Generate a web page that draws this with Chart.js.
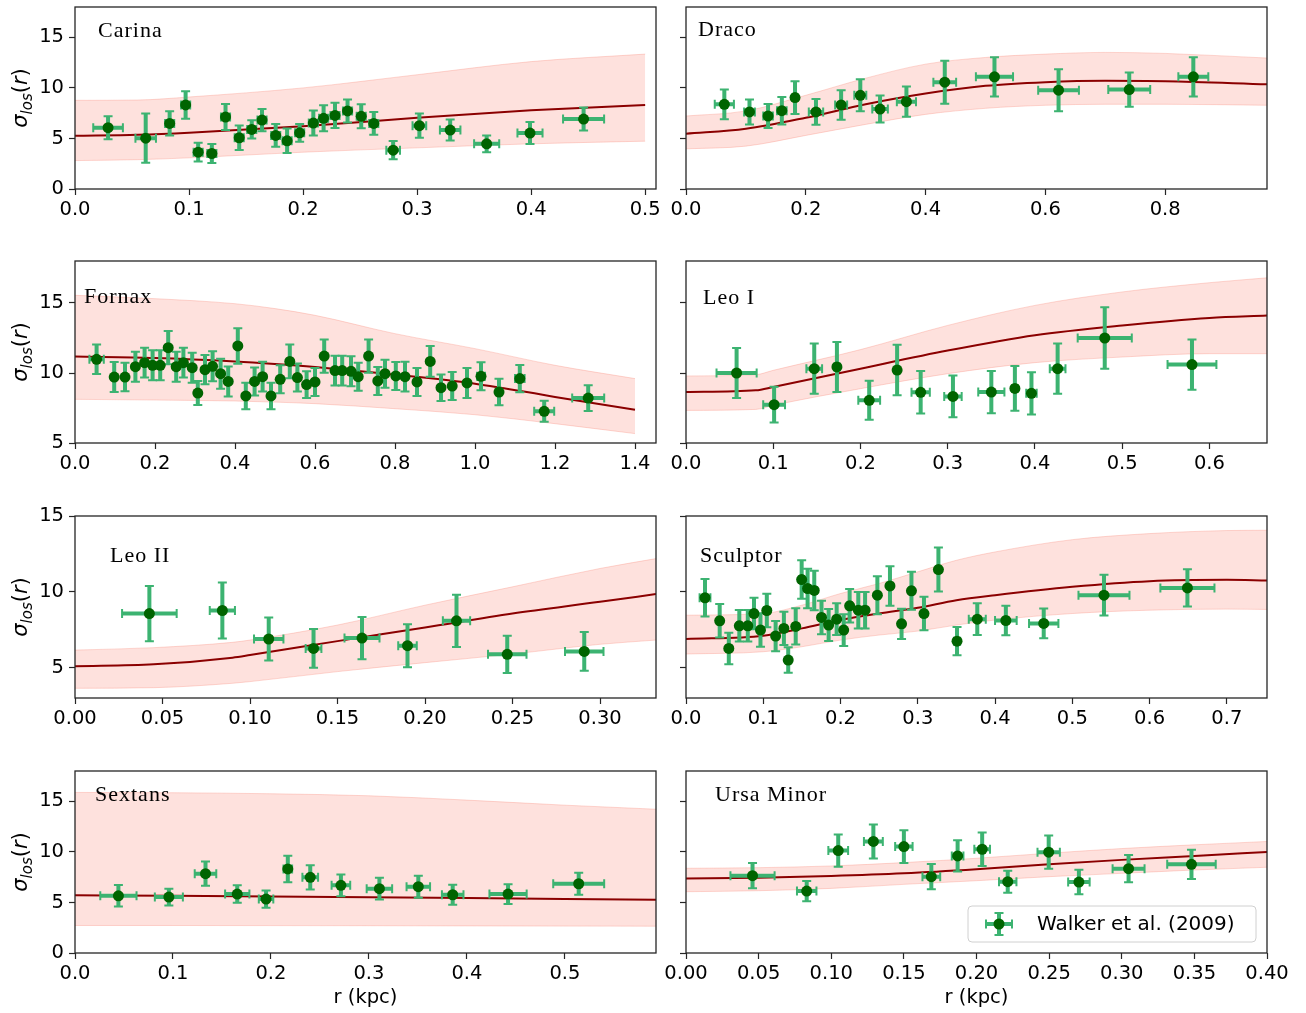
<!DOCTYPE html>
<html>
<head>
<meta charset="utf-8">
<script src="https://cdn.jsdelivr.net/npm/chart.js@4.4.0/dist/chart.umd.min.js"></script>
<style>
  html, body { margin: 0; padding: 0; background: #fff; }
  #fig { position: relative; width: 1306px; height: 1013px; overflow: hidden; background: #fff; }
  #fig canvas { position: absolute; }
</style>
</head>
<body>
<div id="fig"></div>
<script>
// ---- Carina
const carinaR = [0.029, 0.062, 0.083, 0.097, 0.108, 0.120, 0.132, 0.144, 0.155, 0.164, 0.176, 0.186, 0.197, 0.209, 0.218, 0.228, 0.239, 0.251, 0.262, 0.279, 0.302, 0.329, 0.361, 0.399, 0.446];
const carinaSigma = [6.06, 5.03, 6.49, 8.31, 3.64, 3.51, 7.12, 5.07, 5.89, 6.82, 5.30, 4.77, 5.56, 6.52, 6.99, 7.28, 7.72, 7.19, 6.49, 3.84, 6.26, 5.83, 4.47, 5.53, 6.92];
const carinaErrR = [0.013, 0.009, 0.004, 0.004, 0.004, 0.004, 0.004, 0.004, 0.004, 0.004, 0.004, 0.004, 0.004, 0.004, 0.004, 0.004, 0.004, 0.004, 0.004, 0.006, 0.006, 0.009, 0.011, 0.011, 0.018];
const carinaErrSigma = [1.13, 2.43, 1.2, 1.36, 0.93, 0.93, 1.29, 1.22, 0.9, 1.1, 1.13, 1.22, 0.88, 1.24, 1.29, 1.24, 1.14, 1.19, 1.13, 0.9, 1.2, 1.04, 0.83, 1.09, 1.14];
const carinaModelR = [0, 0.055, 0.1, 0.2, 0.3, 0.4, 0.5];
const carinaModel = [5.26, 5.36, 5.56, 6.2, 7.05, 7.78, 8.31];
const carinaUpper = [8.77, 8.8, 9.1, 10.0, 11.3, 12.6, 13.34];
const carinaLower = [2.81, 2.9, 3.08, 3.64, 4.07, 4.47, 4.73];

// ---- Draco
const dracoR = [0.064, 0.106, 0.137, 0.160, 0.182, 0.217, 0.259, 0.291, 0.324, 0.368, 0.432, 0.515, 0.622, 0.740, 0.847];
const dracoSigma = [8.38, 7.62, 7.22, 7.75, 9.04, 7.62, 8.31, 9.27, 7.91, 8.64, 10.56, 11.09, 9.77, 9.83, 11.09];
const dracoErrR = [0.016, 0.009, 0.008, 0.008, 0.004, 0.012, 0.010, 0.010, 0.013, 0.016, 0.019, 0.031, 0.034, 0.035, 0.025];
const dracoErrSigma = [1.47, 1.24, 1.19, 1.36, 1.62, 1.27, 1.46, 1.59, 1.34, 1.5, 2.12, 1.95, 2.07, 1.69, 1.95];
const dracoModelR = [0, 0.1, 0.2, 0.3, 0.4, 0.5, 0.6, 0.7, 0.8, 0.97];
const dracoModel = [5.46, 5.95, 7.05, 8.38, 9.44, 10.2, 10.56, 10.7, 10.66, 10.36];
const dracoUpper = [7.22, 7.72, 9.27, 10.96, 12.35, 13.01, 13.34, 13.51, 13.41, 12.95];
const dracoLower = [3.97, 4.24, 5.3, 6.39, 7.38, 7.98, 8.28, 8.38, 8.38, 8.28];

// ---- Fornax
const fornaxR = [0.054, 0.098, 0.125, 0.151, 0.174, 0.194, 0.213, 0.233, 0.253, 0.271, 0.293, 0.307, 0.325, 0.344, 0.364, 0.383, 0.407, 0.427, 0.449, 0.469, 0.490, 0.513, 0.537, 0.556, 0.579, 0.600, 0.623, 0.650, 0.668, 0.690, 0.708, 0.734, 0.757, 0.775, 0.802, 0.825, 0.855, 0.888, 0.915, 0.943, 0.980, 1.015, 1.060, 1.112, 1.173, 1.283];
const fornaxSigma = [10.98, 9.71, 9.71, 10.45, 10.74, 10.55, 10.55, 11.81, 10.45, 10.74, 10.38, 8.57, 10.24, 10.48, 9.95, 9.40, 11.93, 8.36, 9.40, 9.74, 8.36, 9.55, 10.83, 9.67, 9.17, 9.36, 11.21, 10.17, 10.17, 10.12, 9.74, 11.21, 9.43, 9.95, 9.79, 9.74, 9.36, 10.83, 8.95, 9.07, 9.29, 9.76, 8.64, 9.60, 7.26, 8.21];
const fornaxErrR = [0.018, 0.004, 0.004, 0.004, 0.004, 0.004, 0.004, 0.004, 0.004, 0.004, 0.004, 0.004, 0.004, 0.004, 0.004, 0.004, 0.004, 0.004, 0.004, 0.004, 0.004, 0.004, 0.004, 0.004, 0.004, 0.004, 0.004, 0.004, 0.004, 0.004, 0.004, 0.004, 0.004, 0.004, 0.004, 0.004, 0.004, 0.004, 0.004, 0.004, 0.004, 0.010, 0.006, 0.012, 0.025, 0.040];
const fornaxErrSigma = [1.06, 1.07, 1.02, 1.07, 1.07, 1.07, 1.07, 1.19, 1.07, 1.07, 1.07, 0.86, 1.05, 1.07, 1.07, 1.07, 1.27, 0.95, 1.0, 1.07, 0.95, 1.0, 1.21, 1.0, 0.95, 1.0, 1.19, 1.07, 1.07, 1.07, 1.0, 1.19, 1.0, 1.0, 1.0, 1.07, 1.0, 1.1, 0.95, 1.0, 1.07, 1.0, 0.95, 0.98, 0.75, 0.92];
const fornaxModelR = [0, 0.2, 0.4, 0.5, 0.6, 0.8, 1.0, 1.2, 1.4];
const fornaxModel = [11.17, 11.07, 10.83, 10.65, 10.43, 9.88, 9.24, 8.29, 7.38];
const fornaxUpper = [15.55, 15.31, 14.95, 14.6, 14.12, 12.81, 11.74, 10.55, 9.6];
const fornaxLower = [8.12, 8.07, 8.0, 7.92, 7.81, 7.45, 7.02, 6.38, 5.67];

// ---- Leo I
const leoIR = [0.058, 0.101, 0.147, 0.173, 0.210, 0.242, 0.269, 0.306, 0.350, 0.377, 0.396, 0.426, 0.480, 0.580];
const leoISigma = [10.0, 7.74, 10.31, 10.43, 8.05, 10.21, 8.62, 8.33, 8.64, 8.9, 8.55, 10.31, 12.5, 10.6];
const leoIErrR = [0.023, 0.0125, 0.009, 0.003, 0.0125, 0.003, 0.0105, 0.01, 0.015, 0.003, 0.006, 0.009, 0.031, 0.028];
const leoIErrSigma = [1.79, 1.27, 1.8, 1.79, 1.39, 1.8, 1.52, 1.49, 1.51, 1.6, 1.51, 1.8, 2.2, 1.79];
const leoIModelR = [0, 0.08, 0.1, 0.2, 0.3, 0.4, 0.5, 0.6, 0.666];
const leoIModel = [8.64, 8.76, 9.0, 10.31, 11.6, 12.7, 13.4, 13.93, 14.1];
const leoIUpper = [9.79, 9.88, 10.19, 11.67, 13.4, 14.83, 15.79, 16.45, 16.8];
const leoILower = [7.33, 7.4, 7.69, 8.88, 9.95, 10.74, 11.14, 11.38, 11.38];

// ---- Leo II
const leoIIR = [0.0425, 0.0842, 0.1107, 0.1363, 0.164, 0.190, 0.218, 0.247, 0.291];
const leoIISigma = [8.57, 8.77, 6.89, 6.27, 6.95, 6.45, 8.09, 5.88, 6.07];
const leoIIErrR = [0.0156, 0.0072, 0.0084, 0.0045, 0.010, 0.0053, 0.0078, 0.011, 0.011];
const leoIIErrSigma = [1.82, 1.84, 1.41, 1.28, 1.39, 1.42, 1.72, 1.23, 1.28];
const leoIIModelR = [0, 0.045, 0.09, 0.1, 0.15, 0.2, 0.25, 0.3, 0.332];
const leoIIModel = [5.09, 5.22, 5.66, 5.83, 6.75, 7.65, 8.57, 9.34, 9.85];
const leoIIUpper = [6.16, 6.32, 6.67, 6.82, 7.81, 9.12, 10.33, 11.54, 12.19];
const leoIILower = [3.64, 3.68, 3.97, 4.08, 4.74, 5.33, 5.9, 6.54, 6.82];

// ---- Sculptor
const sculptorR = [0.0246, 0.0436, 0.0554, 0.069, 0.080, 0.088, 0.0964, 0.1046, 0.116, 0.1267, 0.1323, 0.142, 0.1497, 0.1574, 0.166, 0.1754, 0.1846, 0.195, 0.2041, 0.2118, 0.223, 0.2318, 0.2477, 0.264, 0.279, 0.2918, 0.308, 0.3267, 0.3508, 0.377, 0.414, 0.463, 0.541, 0.649];
const sculptorSigma = [9.61, 8.09, 6.27, 7.76, 7.76, 8.57, 7.48, 8.77, 7.08, 7.59, 5.5, 7.72, 10.81, 10.22, 10.09, 8.31, 7.81, 8.2, 7.48, 9.08, 8.79, 8.79, 9.78, 10.39, 7.89, 10.07, 8.57, 11.47, 6.75, 8.2, 8.11, 7.92, 9.78, 10.26];
const sculptorErrR = [0.007, 0.003, 0.003, 0.003, 0.003, 0.003, 0.003, 0.003, 0.003, 0.003, 0.003, 0.003, 0.003, 0.003, 0.003, 0.003, 0.003, 0.003, 0.003, 0.003, 0.003, 0.003, 0.003, 0.003, 0.003, 0.003, 0.003, 0.003, 0.004, 0.011, 0.014, 0.019, 0.033, 0.035];
const sculptorErrSigma = [1.24, 1.1, 1.04, 1.04, 1.04, 1.04, 1.1, 1.1, 1.0, 1.1, 0.84, 1.2, 1.27, 1.3, 1.3, 1.1, 1.05, 1.05, 1.05, 1.1, 1.2, 1.2, 1.25, 1.3, 1.0, 1.25, 1.1, 1.45, 0.93, 1.05, 0.98, 0.98, 1.34, 1.23];
const sculptorModelR = [0, 0.1, 0.15, 0.2, 0.25, 0.3, 0.35, 0.4, 0.5, 0.6, 0.7, 0.752];
const sculptorModel = [6.89, 7.11, 7.59, 8.14, 8.57, 8.95, 9.45, 9.78, 10.33, 10.7, 10.79, 10.75];
const sculptorUpper = [8.46, 8.57, 9.12, 9.89, 10.55, 11.32, 12.08, 12.63, 13.44, 13.84, 14.04, 14.06];
const sculptorLower = [5.9, 6.05, 6.38, 6.82, 7.15, 7.41, 7.81, 8.14, 8.57, 8.79, 8.86, 8.84];

// ---- Sextans
const sextansR = [0.0443, 0.0958, 0.1332, 0.1656, 0.195, 0.2172, 0.2401, 0.2714, 0.3107, 0.3504, 0.3855, 0.442, 0.5141];
const sextansSigma = [5.66, 5.53, 7.85, 5.83, 5.33, 8.31, 7.48, 6.69, 6.36, 6.56, 5.76, 5.83, 6.85];
const sextansErrR = [0.0185, 0.0143, 0.011, 0.0124, 0.0074, 0.0044, 0.008, 0.0095, 0.013, 0.012, 0.011, 0.019, 0.026];
const sextansErrSigma = [1.06, 0.83, 1.21, 0.86, 0.86, 1.32, 1.21, 1.08, 1.08, 1.09, 0.98, 0.98, 1.08];
const sextansModelR = [0, 0.1, 0.2, 0.3, 0.4, 0.5, 0.593];
const sextansModel = [5.7, 5.66, 5.6, 5.52, 5.44, 5.35, 5.26];
const sextansUpper = [15.88, 15.85, 15.75, 15.55, 15.12, 14.62, 14.22];
const sextansLower = [2.72, 2.72, 2.71, 2.7, 2.68, 2.66, 2.65];

// ---- Ursa Minor
const ursaR = [0.0458, 0.0831, 0.1048, 0.129, 0.150, 0.1689, 0.187, 0.2039, 0.2215, 0.2497, 0.2705, 0.3047, 0.348];
const ursaSigma = [7.65, 6.13, 10.13, 11.03, 10.53, 7.55, 9.6, 10.26, 7.05, 9.97, 7.02, 8.34, 8.77];
const ursaErrR = [0.0152, 0.0067, 0.0068, 0.0065, 0.006, 0.0061, 0.004, 0.0054, 0.006, 0.0077, 0.0074, 0.011, 0.0167];
const ursaErrSigma = [1.24, 1.0, 1.6, 1.69, 1.62, 1.24, 1.54, 1.66, 1.09, 1.64, 1.21, 1.34, 1.44];
const ursaModelR = [0, 0.05, 0.1, 0.15, 0.2, 0.25, 0.3, 0.35, 0.4];
const ursaModel = [7.38, 7.45, 7.62, 7.88, 8.28, 8.77, 9.21, 9.6, 10.0];
const ursaUpper = [8.38, 8.44, 8.61, 8.94, 9.37, 9.87, 10.33, 10.7, 11.03];
const ursaLower = [6.06, 6.16, 6.39, 6.79, 7.15, 7.55, 7.88, 8.21, 8.48];

const dataLabel = "Walker et al. (2009)";

// y ranges per row (shared in a row)
const rowYMin = [0, 5, 3, 0];
const rowYMax = [18, 18, 15, 18];

const panels = [
    { name: "Carina", r: carinaR, s: carinaSigma, er: carinaErrR, es: carinaErrSigma, mr: carinaModelR, m: carinaModel, up: carinaUpper, lo: carinaLower, xMax: 0.5095, xStep: 0.1, xDec: 1, row: 0, col: 0, tx: 23, ty: 30 },
    { name: "Draco", r: dracoR, s: dracoSigma, er: dracoErrR, es: dracoErrSigma, mr: dracoModelR, m: dracoModel, up: dracoUpper, lo: dracoLower, xMax: 0.97, xStep: 0.2, xDec: 1, row: 0, col: 1, tx: 12, ty: 29 },
    { name: "Fornax", r: fornaxR, s: fornaxSigma, er: fornaxErrR, es: fornaxErrSigma, mr: fornaxModelR, m: fornaxModel, up: fornaxUpper, lo: fornaxLower, xMax: 1.4525, xStep: 0.2, xDec: 1, row: 1, col: 0, tx: 9, ty: 42 },
    { name: "Leo I", r: leoIR, s: leoISigma, er: leoIErrR, es: leoIErrSigma, mr: leoIModelR, m: leoIModel, up: leoIUpper, lo: leoILower, xMax: 0.666, xStep: 0.1, xDec: 1, row: 1, col: 1, tx: 17, ty: 43 },
    { name: "Leo II", r: leoIIR, s: leoIISigma, er: leoIIErrR, es: leoIIErrSigma, mr: leoIIModelR, m: leoIIModel, up: leoIIUpper, lo: leoIILower, xMax: 0.332, xStep: 0.05, xDec: 2, row: 2, col: 0, tx: 35, ty: 46 },
    { name: "Sculptor", r: sculptorR, s: sculptorSigma, er: sculptorErrR, es: sculptorErrSigma, mr: sculptorModelR, m: sculptorModel, up: sculptorUpper, lo: sculptorLower, xMax: 0.752, xStep: 0.1, xDec: 1, row: 2, col: 1, tx: 14, ty: 46 },
    { name: "Sextans", r: sextansR, s: sextansSigma, er: sextansErrR, es: sextansErrSigma, mr: sextansModelR, m: sextansModel, up: sextansUpper, lo: sextansLower, xMax: 0.593, xStep: 0.1, xDec: 1, row: 3, col: 0, tx: 20, ty: 30 },
    { name: "Ursa Minor", r: ursaR, s: ursaSigma, er: ursaErrR, es: ursaErrSigma, mr: ursaModelR, m: ursaModel, up: ursaUpper, lo: ursaLower, xMax: 0.40, xStep: 0.05, xDec: 2, row: 3, col: 1, tx: 29, ty: 30, legend: true }
];

// layout of the figure
const COL_LEFT = [75, 686];
const ROW_TOP = [7, 261, 516, 771];
const PLOT_W = 581, PLOT_H = 182;
const AXIS_W = 75, PAD_TOP = 18, PAD_RIGHT = 30;

const BAR_COLOR = "#3cb371";
const DOT_COLOR = "#006400";
const FRAME = "#262626";

Chart.defaults.font.family = "'DejaVu Sans', sans-serif";
Chart.defaults.font.size = 19.5;
Chart.defaults.color = "#000";

function drawErrorBar(ctx, px, py, x0, x1, y0, y1) {
    ctx.strokeStyle = BAR_COLOR;
    ctx.lineCap = "butt";
    ctx.lineWidth = 4;
    ctx.beginPath();
    ctx.moveTo(x0, py); ctx.lineTo(x1, py);
    ctx.moveTo(px, y0); ctx.lineTo(px, y1);
    ctx.stroke();
    ctx.lineWidth = 2;
    ctx.beginPath();
    ctx.moveTo(x0, py - 4.5); ctx.lineTo(x0, py + 4.5);
    ctx.moveTo(x1, py - 4.5); ctx.lineTo(x1, py + 4.5);
    ctx.moveTo(px - 4.5, y0); ctx.lineTo(px + 4.5, y0);
    ctx.moveTo(px - 4.5, y1); ctx.lineTo(px + 4.5, y1);
    ctx.stroke();
}

const errorBars = {
    id: "errorBars",
    beforeDatasetDraw(chart, args) {
        if (args.index !== 0) return;
        const ds = chart.data.datasets[0];
        const xs = chart.scales.x, ys = chart.scales.y;
        const ctx = chart.ctx;
        ctx.save();
        ds.data.forEach((p, i) => {
            drawErrorBar(ctx,
                xs.getPixelForValue(p.x), ys.getPixelForValue(p.y),
                xs.getPixelForValue(p.x - ds.errX[i]), xs.getPixelForValue(p.x + ds.errX[i]),
                ys.getPixelForValue(p.y - ds.errY[i]), ys.getPixelForValue(p.y + ds.errY[i]));
        });
        ctx.restore();
    }
};

function drawYLabel(ctx, cx, cy) {
    const big = 21, small = 15;
    const parts = [
        { t: "σ", f: `italic ${big}px 'DejaVu Sans'`, dy: 0 },
        { t: "los", f: `italic ${small}px 'DejaVu Sans'`, dy: 5 },
        { t: "(", f: `${big}px 'DejaVu Sans'`, dy: 0 },
        { t: "r", f: `italic ${big}px 'DejaVu Sans'`, dy: 0 },
        { t: ")", f: `${big}px 'DejaVu Sans'`, dy: 0 }
    ];
    ctx.save();
    ctx.translate(cx, cy);
    ctx.rotate(-Math.PI / 2);
    ctx.fillStyle = "#000";
    ctx.textBaseline = "alphabetic";
    ctx.textAlign = "left";
    let total = 0;
    parts.forEach(p => { ctx.font = p.f; p.w = ctx.measureText(p.t).width; total += p.w; });
    let x = -total / 2;
    parts.forEach(p => {
        ctx.font = p.f;
        ctx.fillText(p.t, x, 6 + p.dy);
        x += p.w;
    });
    ctx.restore();
}

function drawLegend(chart) {
    const ctx = chart.ctx;
    const area = chart.chartArea;
    const w = 288, h = 36;
    const x = area.right - 11 - w, y = area.bottom - 11 - h;
    ctx.save();
    ctx.beginPath();
    ctx.roundRect(x, y, w, h, 4);
    ctx.fillStyle = "rgba(255,255,255,0.8)";
    ctx.fill();
    ctx.strokeStyle = "#d0d0d0";
    ctx.lineWidth = 1;
    ctx.stroke();
    const mx = x + 31, my = y + 18;
    drawErrorBar(ctx, mx, my, mx - 13, mx + 13, my - 11, my + 11);
    ctx.fillStyle = DOT_COLOR;
    ctx.beginPath();
    ctx.arc(mx, my, 5.5, 0, Math.PI * 2);
    ctx.fill();
    ctx.fillStyle = "#000";
    ctx.font = "20px 'DejaVu Sans'";
    ctx.textBaseline = "middle";
    ctx.fillText(dataLabel, x + 69, my + 1);
    ctx.restore();
}

const decorations = {
    id: "decorations",
    afterDraw(chart) {
        const p = chart.options.plugins.decorations.panel;
        const ctx = chart.ctx;
        const a = chart.chartArea;
        ctx.save();
        ctx.strokeStyle = FRAME;
        ctx.lineWidth = 1.3;
        ctx.strokeRect(a.left, a.top, a.right - a.left, a.bottom - a.top);
        ctx.fillStyle = "#000";
        ctx.font = "22px 'Liberation Serif'";
        ctx.letterSpacing = "1px";
        ctx.textBaseline = "alphabetic";
        ctx.fillText(p.name, a.left + p.tx, a.top + p.ty);
        ctx.restore();
        if (p.col === 0) drawYLabel(ctx, 21, (a.top + a.bottom) / 2);
        if (p.legend) drawLegend(chart);
    }
};

const fig = document.getElementById("fig");

panels.forEach(p => {
    const bottomRow = p.row === 3;
    const xAxisH = bottomRow ? 60 : 45;
    const canvas = document.createElement("canvas");
    canvas.width = AXIS_W + PLOT_W + PAD_RIGHT;
    canvas.height = PAD_TOP + PLOT_H + xAxisH;
    canvas.style.left = (COL_LEFT[p.col] - AXIS_W) + "px";
    canvas.style.top = (ROW_TOP[p.row] - PAD_TOP) + "px";
    canvas.style.width = canvas.width + "px";
    canvas.style.height = canvas.height + "px";
    fig.appendChild(canvas);

    const points = p.r.map((r, i) => ({ x: r, y: p.s[i] }));
    const line = arr => p.mr.map((r, i) => ({ x: r, y: arr[i] }));

    new Chart(canvas.getContext("2d"), {
        type: "line",
        data: {
            datasets: [
                {
                    label: dataLabel,
                    data: points,
                    errX: p.er,
                    errY: p.es,
                    showLine: false,
                    pointRadius: 5.5,
                    pointBorderWidth: 0,
                    pointBackgroundColor: DOT_COLOR,
                    pointBorderColor: DOT_COLOR
                },
                {
                    data: line(p.m),
                    borderColor: "#8b0000",
                    borderWidth: 2,
                    pointRadius: 0,
                    fill: false,
                    cubicInterpolationMode: "monotone"
                },
                {
                    data: line(p.lo),
                    borderColor: "rgba(250,128,114,0.3)",
                    borderWidth: 1,
                    pointRadius: 0,
                    fill: false,
                    cubicInterpolationMode: "monotone"
                },
                {
                    data: line(p.up),
                    borderColor: "rgba(250,128,114,0.3)",
                    backgroundColor: "rgba(250,128,114,0.24)",
                    borderWidth: 1,
                    pointRadius: 0,
                    fill: "-1",
                    cubicInterpolationMode: "monotone"
                }
            ]
        },
        options: {
            responsive: false,
            devicePixelRatio: 1,
            animation: false,
            layout: { padding: { left: 0, top: PAD_TOP, right: PAD_RIGHT, bottom: 0 } },
            plugins: {
                legend: { display: false },
                tooltip: { enabled: false },
                decorations: { panel: p }
            },
            scales: {
                x: {
                    type: "linear",
                    min: 0,
                    max: p.xMax,
                    ticks: {
                        stepSize: p.xStep,
                        includeBounds: false,
                        autoSkip: false,
                        maxRotation: 0,
                        padding: 3,
                        callback: v => v.toFixed(p.xDec)
                    },
                    grid: { drawOnChartArea: false, drawTicks: true, tickLength: 6, tickWidth: 1.2, tickColor: FRAME },
                    border: { display: false },
                    title: {
                        display: bottomRow,
                        text: "r (kpc)",
                        font: { size: 19.5 },
                        padding: { top: 0, bottom: 3 }
                    },
                    afterFit: s => { s.height = xAxisH; }
                },
                y: {
                    type: "linear",
                    min: rowYMin[p.row],
                    max: rowYMax[p.row],
                    ticks: {
                        stepSize: 5,
                        includeBounds: false,
                        padding: 5,
                        callback: v => (p.col === 0 ? String(v) : "")
                    },
                    grid: { drawOnChartArea: false, drawTicks: true, tickLength: 6, tickWidth: 1.2, tickColor: FRAME },
                    border: { display: false },
                    afterFit: s => { s.width = AXIS_W; }
                }
            }
        },
        plugins: [errorBars, decorations]
    });
});
</script>
</body>
</html>
